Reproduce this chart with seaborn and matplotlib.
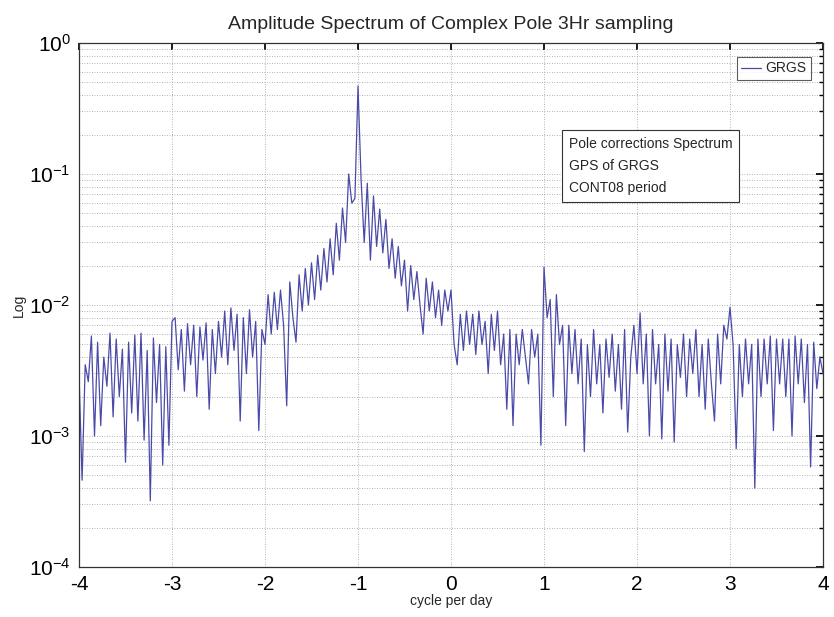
import numpy as np
import pandas as pd
import matplotlib
matplotlib.use("Agg")
import matplotlib.pyplot as plt
import matplotlib.ticker as mticker
import seaborn as sns

# frequency grid (cycle per day), step 1/30
freq_start, freq_stop, freq_count = -4.0, 4.0, 241

# amplitude values, in units of 1e-3
amp_e3 = [
    # -4.0 .. -3.0
    3.0, 0.46, 3.5, 2.6, 5.8, 1.0, 5.2, 1.2, 4.0, 2.4,
    6.1, 1.4, 5.5, 2.0, 4.6, 0.63, 5.2, 1.5, 5.9, 1.3,
    6.1, 0.93, 4.5, 0.32, 5.6, 1.8, 5.0, 0.6, 4.8, 0.85,
    # -3.0 .. -2.0
    7.5, 8.0, 3.2, 6.5, 2.2, 7.2, 3.5, 7.0, 2.0, 6.8,
    3.8, 7.3, 1.6, 6.5, 3.0, 7.5, 4.0, 9.0, 3.5, 9.5,
    4.5, 8.5, 1.3, 8.0, 3.0, 9.2, 4.0, 7.5, 1.1, 6.5,
    # -2.0 .. -1.0
    5.0, 12, 6.0, 12.5, 6.5, 13, 7.0, 1.7, 15, 8.0,
    5.2, 17, 9.0, 19, 10, 21, 11, 24, 13, 27,
    15, 32, 17, 42, 22, 55, 30, 100, 60, 65,
    # -1.0 .. 0.0
    470, 90, 30, 85, 22, 68, 28, 54, 25, 45,
    19, 32, 16, 28, 14, 22, 9, 20, 11, 18,
    10, 6, 16, 9, 15, 8, 13, 7, 13, 9,
    # 0.0 .. 1.0
    13, 5, 3.5, 8.5, 4.5, 9, 5, 8.5, 4.2, 9,
    5, 7.5, 3.0, 8.5, 4.5, 9, 3.5, 6, 1.6, 6.5,
    1.2, 6, 3.5, 6.5, 4, 2.5, 6.5, 4, 6, 0.85,
    # 1.0 .. 2.0
    19.5, 8, 11, 2.0, 12, 5, 7, 1.2, 7, 3,
    6.5, 2.5, 5.5, 0.76, 5.0, 2.0, 6.5, 2.5, 5.0, 1.5,
    5.5, 2.8, 6.0, 2.2, 5.0, 1.6, 6.5, 1.07, 4.0, 7.0,
    # 2.0 .. 3.0
    3.0, 8.7, 2.5, 6.0, 1.0, 6.5, 2.5, 5.0, 0.95, 6.0,
    2.2, 5.5, 0.9, 5.0, 2.8, 6.0, 2.0, 5.5, 3.0, 6.5,
    2.0, 5.0, 1.6, 5.5, 2.5, 1.3, 6.0, 2.5, 7.0, 5.5,
    # 3.0 .. 4.0
    9.6, 5.0, 0.8, 5.0, 2.0, 5.5, 2.5, 5.0, 0.4, 5.5,
    2.0, 5.5, 2.5, 5.8, 1.1, 5.5, 2.5, 5.5, 2.0, 5.5,
    1.0, 5.8, 2.5, 5.5, 1.8, 5.0, 0.58, 5.2, 2.3, 4.0,
    3.0,
]

x_ticks = [-4, -3, -2, -1, 0, 1, 2, 3, 4]
title_text = "Amplitude Spectrum of Complex Pole 3Hr sampling"
note_lines = ["Pole corrections Spectrum", "GPS of GRGS", "CONT08 period"]
series_name = "GRGS"

freq = np.linspace(freq_start, freq_stop, freq_count)
df = pd.DataFrame({"freq": freq, "amp": np.array(amp_e3) * 1e-3})

sns.set_theme(style="white")
plt.rcParams["font.family"] = ["Liberation Sans Narrow", "Liberation Sans", "DejaVu Sans"]
plt.rcParams["mathtext.default"] = "regular"

fig = plt.figure(figsize=(8.34, 6.17), dpi=100)
ax = fig.add_axes([79 / 834, 1 - 567 / 617, 744 / 834, 524 / 617])

sns.lineplot(data=df, x="freq", y="amp", ax=ax, color="#4a4aa8",
             linewidth=0.9, label=series_name)

ax.set_yscale("log")
ax.set_xlim(-4, 4)
ax.set_ylim(1e-4, 1)
ax.set_xticks(x_ticks)
ax.set_xticklabels([str(t) for t in x_ticks])
ax.yaxis.set_major_locator(mticker.LogLocator(base=10, numticks=10))
ax.yaxis.set_minor_locator(mticker.LogLocator(base=10, subs=np.arange(2, 10), numticks=20))
ax.yaxis.set_minor_formatter(mticker.NullFormatter())

ax.grid(True, which="major", axis="both", linestyle=(0, (1, 2)), color="#999999", linewidth=0.6)
ax.grid(True, which="minor", axis="y", linestyle=(0, (1, 2)), color="#999999", linewidth=0.6)

ax.tick_params(axis="both", which="both", direction="in", top=True, right=True,
               colors="black")
ax.tick_params(axis="both", which="major", length=5, labelsize=15, pad=6)
ax.tick_params(axis="y", which="minor", length=3)
for s in ax.spines.values():
    s.set_color("#333333")
    s.set_linewidth(0.9)

ax.set_title(title_text, fontsize=14, pad=10)
ax.set_xlabel("cycle per day", fontsize=10, labelpad=0)
ax.set_ylabel("Log", fontsize=10, labelpad=2)

leg = ax.legend(loc="upper right", fontsize=10, frameon=True, fancybox=False,
                handlelength=1.4, handletextpad=0.3, borderaxespad=0.6,
                borderpad=0.35, bbox_to_anchor=(0.995, 0.99))
leg.get_frame().set_edgecolor("#333333")
leg.get_frame().set_linewidth(0.8)

ax.text(0.658, 0.82, "\n".join(note_lines), transform=ax.transAxes, fontsize=10,
        va="top", ha="left", linespacing=1.7,
        bbox=dict(boxstyle="square,pad=0.5", facecolor="white", edgecolor="#333333",
                  linewidth=0.8))

fig.savefig("out.png", dpi=100)
